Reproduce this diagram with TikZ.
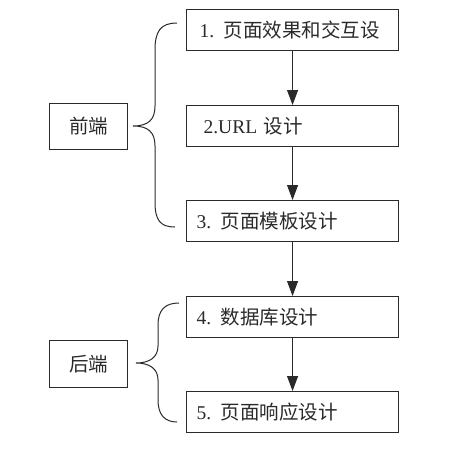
\documentclass[tikz,border=0pt]{standalone}
\usepackage{fontspec}
\setmainfont{Liberation Serif}
\newfontfamily\cjk{Noto Sans CJK SC}
\usetikzlibrary{arrows.meta}
\definecolor{ink}{HTML}{2A2A2A}
\tikzset{
  stepbox/.style={draw=ink, line width=1.1pt, rectangle, minimum height=41pt,
    align=left, inner ysep=0pt, font=\fontsize{19.5}{21}\selectfont, text=ink, anchor=north west},
  sidebox/.style={draw=ink, line width=1.1pt, rectangle, minimum width=78pt,
    inner sep=0pt, font=\fontsize{19.5}{21}\selectfont, text=ink, anchor=north west},
  flow/.style={draw=ink, line width=1pt, -{Triangle[length=15pt,width=11pt]}},
  brace/.style={draw=ink, line width=1pt}
}
\begin{document}
\begin{tikzpicture}[x=1pt,y=-1pt]
\useasboundingbox (0,0) rectangle (450,448);
\node[stepbox, inner xsep=13pt, text width=186pt] (b1) at (186,9) {1. {\cjk 页面效果和交互设}};
\node[stepbox, inner xsep=17pt, text width=178pt] (b2) at (186,105) {2.URL {\cjk 设计}};
\node[stepbox, inner xsep=10pt, text width=192pt] (b3) at (186,200) {3. {\cjk 页面模板设计}};
\node[stepbox, inner xsep=10pt, text width=192pt] (b4) at (186,296) {4. {\cjk 数据库设计}};
\node[stepbox, inner xsep=10pt, text width=192pt] (b5) at (186,391) {5. {\cjk 页面响应设计}};
\node[sidebox, minimum height=46pt] (fe) at (49,103) {\cjk 前端};
\node[sidebox, minimum height=47pt] (be) at (49,340) {\cjk 后端};
\draw[flow] (b1) -- (b2);
\draw[flow] (b2) -- (b3);
\draw[flow] (b3) -- (b4);
\draw[flow] (b4) -- (b5);
% front brace
\coordinate (f1) at (177,23);
\coordinate (fm) at (133,126);
\coordinate (f2) at (175,227);
\draw[brace] (f1) .. controls (160,23) and (155,32) .. (155,50)
  -- (155,106) .. controls (155,120) and (148,126) .. (fm)
  .. controls (148,126) and (155,132) .. (155,146)
  -- (155,202) .. controls (155,220) and (160,227) .. (f2);
% back brace
\coordinate (k1) at (179,303);
\coordinate (km) at (136,363);
\coordinate (k2) at (177,422);
\draw[brace] (k1) .. controls (165,303) and (158,310) .. (158,325)
  -- (158,346) .. controls (158,357) and (150,363) .. (km)
  .. controls (150,363) and (158,369) .. (158,380)
  -- (158,400) .. controls (158,415) and (165,422) .. (k2);
\end{tikzpicture}
\end{document}
